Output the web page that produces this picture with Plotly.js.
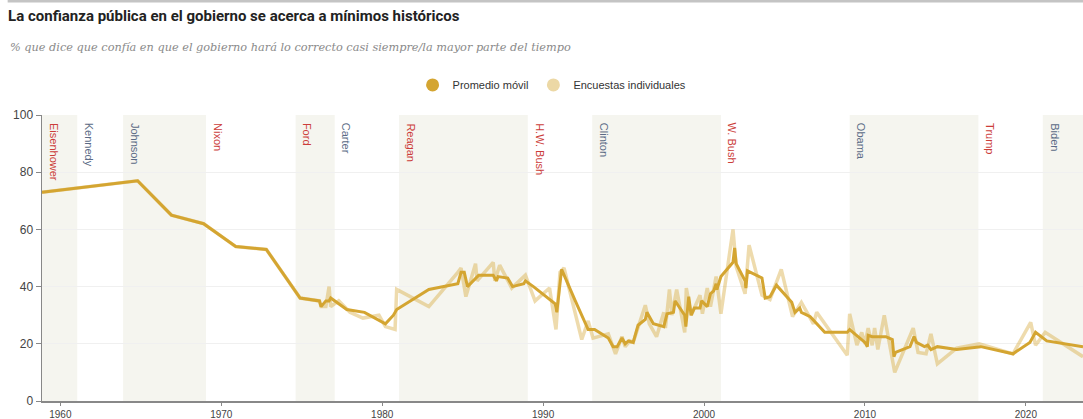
<!DOCTYPE html>
<html>
<head>
<meta charset="utf-8">
<script src="https://cdn.plot.ly/plotly-3.0.1.min.js"></script>
<style>
  html, body { margin: 0; padding: 0; background: #fff; }
  #chart { width: 1083px; height: 419px; }
</style>
</head>
<body>
<div id="chart"></div>
<script>
// promedio movil (anio decimal, %)
var avgYears = [1958.86, 1964.8, 1966.9, 1968.9, 1970.9, 1972.8, 1974.9, 1976.1, 1976.2, 1976.5, 1976.7, 1976.8,
  1977.8, 1978.9, 1980.2, 1980.7, 1980.9, 1982.9, 1984.7, 1984.9, 1985.1, 1985.3, 1986.0, 1986.9, 1987.1, 1987.2,
  1987.8, 1988.1, 1988.8, 1988.9, 1989.4, 1990.1, 1990.75, 1990.85, 1991.15, 1992.0, 1992.8, 1993.2, 1994.05,
  1994.35, 1994.6, 1994.9, 1995.1, 1995.3, 1995.6, 1995.9, 1996.35, 1996.45, 1996.85, 1997.5, 1997.7, 1998.1,
  1998.2, 1998.8, 1998.87, 1999.05, 1999.2, 1999.4, 1999.75, 1999.85, 2000.2, 2000.4, 2000.6, 2000.75, 2000.8,
  2001.05, 2001.8, 2001.9, 2002.0, 2002.55, 2002.6, 2002.7, 2003.6, 2003.8, 2004.1, 2004.5, 2005.45, 2005.65,
  2005.95, 2006.05, 2006.6, 2007.5, 2008.9, 2009.05, 2010.0, 2010.15, 2010.2, 2010.45, 2011.3, 2011.7, 2011.8,
  2011.9, 2012.8, 2013.05, 2013.2, 2013.7, 2013.9, 2014.1, 2014.5, 2015.7, 2017.2, 2019.2, 2020.25, 2020.6,
  2021.3, 2023.55];
var avgValues = [73, 77, 65, 62, 54, 53, 36, 35, 33, 35, 35, 36,
  32, 31, 27, 30, 32, 39, 41, 45, 45, 40, 44, 44, 42, 43.5,
  43, 40, 41, 42, 40, 37, 34, 31, 46, 35, 25, 25, 22,
  19, 19, 22, 20, 21, 20.5, 26.5, 28.5, 31, 27, 26, 30.5, 31,
  35, 30, 26, 36.5, 30, 32.5, 32.5, 35, 33, 37.5, 38.5, 41, 39,
  43.5, 48.5, 53.5, 48, 42, 39.5, 45.5, 43, 36, 36.5, 40.5, 34.5, 31,
  32.5, 31, 29.5, 24, 24, 25, 20.5, 19, 23, 22.5, 22.5, 21.5, 15.5,
  17, 19, 22.5, 20.5, 19, 19.5, 18, 19, 18, 19, 16.5, 20.5, 24,
  21, 19];

// encuestas individuales
var pollYears = [1958.86, 1964.8, 1966.9, 1968.9, 1970.9, 1972.8, 1974.9, 1976.1, 1976.2, 1976.5, 1976.7, 1976.8,
  1977.3, 1978.0, 1978.8, 1979.8, 1980.2, 1980.8, 1980.9, 1982.9, 1984.7, 1984.9, 1985.2, 1985.8, 1985.9, 1986.9,
  1987.0, 1987.3, 1988.05, 1988.9, 1989.5, 1990.4, 1990.8, 1991.05, 1991.3, 1992.4, 1992.8, 1993.1, 1994.05,
  1994.5, 1994.9, 1995.1, 1995.4, 1995.6, 1996.35, 1996.6, 1997.05, 1997.5, 1997.6, 1997.85, 1998.0, 1998.3,
  1998.8, 1998.9, 1999.2, 1999.75, 1999.9, 2000.2, 2000.4, 2000.75, 2001.05, 2001.8, 2002.0, 2002.55, 2002.8,
  2003.6, 2004.1, 2004.8, 2005.5, 2006.05, 2006.8, 2007.0, 2008.9, 2009.05, 2009.5, 2009.8, 2010.0, 2010.2,
  2010.45, 2010.6, 2010.8, 2011.2, 2011.85, 2013.0, 2013.3, 2013.8, 2014.1, 2014.5, 2015.7, 2017.1, 2019.2,
  2020.3, 2020.6, 2021.2, 2023.55];
var pollValues = [73, 77, 65, 62, 54, 53, 36, 35, 33, 33, 40, 33,
  35, 31, 29, 30, 26, 25, 39, 33, 45, 46.5, 36.5, 48, 42, 48.5,
  42, 47.5, 39.5, 44, 35, 39.5, 25, 45, 46.5, 21.5, 28, 22, 23.5,
  16.5, 22.5, 19, 21, 20.5, 33.5, 27, 22.5, 31, 25.5, 39, 30, 39,
  24, 39.5, 30, 37, 30.5, 39.5, 33, 43.5, 30.5, 60, 47, 37.5, 54.5,
  37, 35.5, 46, 29.5, 34.5, 27, 31, 16, 30.5, 19.5, 24, 20, 25.5,
  19.5, 25.5, 18, 30, 10, 25.5, 17, 16.5, 23.5, 13, 18.5, 20, 16.5,
  27.5, 19.5, 24, 15.5];

// presidentes: nombre, inicio del mandato, partido
var presNames = ['Eisenhower', 'Kennedy', 'Johnson', 'Nixon', 'Ford', 'Carter', 'Reagan', 'H.W. Bush',
  'Clinton', 'W. Bush', 'Obama', 'Trump', 'Biden'];
var presStart = [1958.86, 1961.05, 1963.9, 1969.05, 1974.62, 1977.05, 1981.05, 1989.05, 1993.05, 2001.05,
  2009.05, 2017.05, 2021.05];
var presParty = ['R', 'D', 'D', 'R', 'R', 'D', 'R', 'R', 'D', 'R', 'D', 'R', 'D'];

var xMin = 1958.86, xMax = 2023.55;
var gold = '#d4a531';
var goldLight = 'rgba(212,165,49,0.4)';

var shapes = [];
var annotations = [];
for (var i = 0; i < presNames.length; i++) {
  var end = i + 1 < presStart.length ? presStart[i + 1] : xMax;
  // sombreado alterno
  if (i % 2 == 0) {
    shapes.push({type: 'rect', xref: 'x', yref: 'paper', x0: presStart[i], x1: end, y0: 0, y1: 1,
      fillcolor: '#f5f5ef', line: {width: 0}, layer: 'below'});
  }
  annotations.push({
    text: presNames[i], x: presStart[i], xref: 'x', y: 1, yref: 'paper',
    xanchor: 'left', yanchor: 'top', xshift: 4, yshift: -6, textangle: 90, showarrow: false,
    font: {family: 'Liberation Sans, Arial, sans-serif', size: 11,
      color: presParty[i] == 'R' ? '#cc3d3a' : '#5b6b86'}
  });
}
// linea gris arriba
shapes.push({type: 'line', xref: 'paper', yref: 'paper', x0: -0.033, x1: 1, y0: 1.3975, y1: 1.3975,
  line: {color: '#c4c4c4', width: 2.5}});

annotations.push({
  text: '% que dice que confía en que el gobierno hará lo correcto casi siempre/la mayor parte del tiempo',
  xref: 'paper', yref: 'paper', x: -0.0327, y: 1.237, xanchor: 'left', yanchor: 'middle', showarrow: false,
  font: {family: 'DejaVu Serif, Georgia, serif', size: 11.3, color: '#8a8a8a', style: 'italic'}
});

var data = [
  {x: pollYears, y: pollValues, type: 'scatter', mode: 'lines', name: 'Encuestas individuales',
    line: {color: goldLight, width: 3.5}, showlegend: false},
  {x: avgYears, y: avgValues, type: 'scatter', mode: 'lines', name: 'Promedio móvil',
    line: {color: gold, width: 3}, showlegend: false},
  // solo para la leyenda
  {x: [null], y: [null], type: 'scatter', mode: 'markers', name: 'Promedio móvil',
    marker: {color: gold, size: 13}},
  {x: [null], y: [null], type: 'scatter', mode: 'markers', name: 'Encuestas individuales',
    marker: {color: '#ecd8a5', size: 13}}
];

var layout = {
  width: 1083, height: 419,
  margin: {l: 42, r: 0, t: 115, b: 18},
  paper_bgcolor: '#fff', plot_bgcolor: '#fff',
  font: {family: 'Liberation Sans, Arial, sans-serif', size: 11, color: '#444'},
  title: {
    text: 'La confianza pública en el gobierno se acerca a mínimos históricos',
    xref: 'container', yref: 'container', x: 0.0075, y: 0.975, xanchor: 'left', yanchor: 'top',
    font: {family: 'Liberation Sans Narrow, Roboto, Arial, sans-serif', size: 15, color: '#222', weight: 700}
  },
  showlegend: true,
  legend: {orientation: 'h', x: 0.49, xanchor: 'center', y: 1.105, yanchor: 'middle',
    font: {size: 11, color: '#333'}, itemwidth: 30, traceorder: 'normal'},
  xaxis: {
    range: [xMin, xMax], tickvals: [1960, 1970, 1980, 1990, 2000, 2010, 2020],
    showgrid: false, zeroline: false, showline: true, linecolor: '#888', linewidth: 1.5,
    ticks: 'outside', ticklen: 3, tickcolor: '#888', tickfont: {size: 10, color: '#444'}
  },
  yaxis: {
    range: [0, 100], tickvals: [0, 20, 40, 60, 80, 100],
    showgrid: true, gridcolor: '#f0f0f0', zeroline: false, showline: true, linecolor: '#888', linewidth: 1.5,
    ticks: 'outside', ticklen: 5, tickcolor: '#888', tickfont: {size: 12, color: '#444'}
  },
  shapes: shapes,
  annotations: annotations,
  hovermode: false
};

Plotly.newPlot('chart', data, layout, {staticPlot: true, displayModeBar: false});
</script>
</body>
</html>
